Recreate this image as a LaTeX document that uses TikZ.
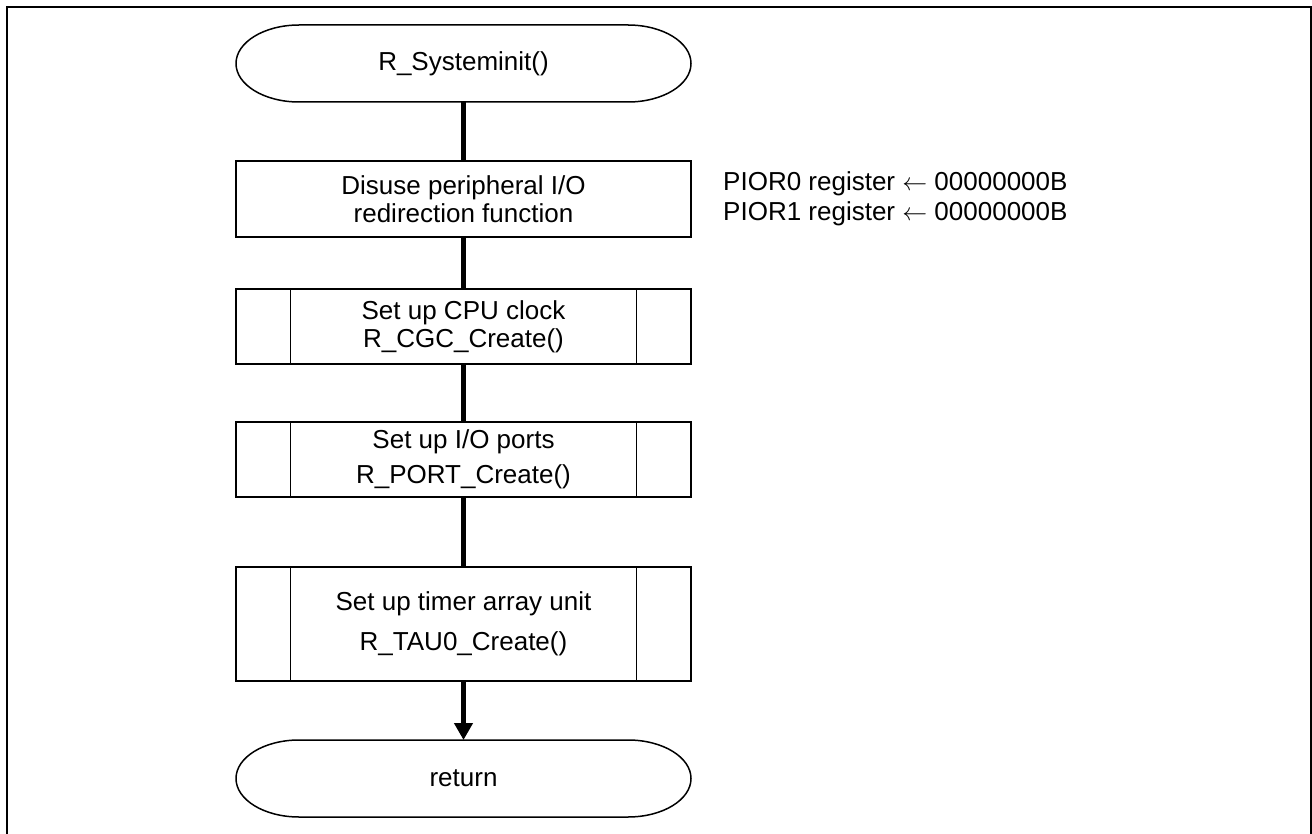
\documentclass[tikz,border=0pt]{standalone}
\usepackage{fontspec}
\setmainfont{Liberation Sans}
\usetikzlibrary{arrows.meta}
\tikzset{
    box/.style={draw, line width=1.3pt, minimum width=455pt, inner sep=0pt, align=center},
    term/.style={minimum width=455pt, minimum height=77pt, inner sep=0pt, outer sep=0pt},
    flow/.style={line width=4.5pt}
}
\begin{document}
\begin{tikzpicture}[x=1pt, y=-1pt, font=\fontsize{26}{28}\selectfont]
        \useasboundingbox (0,0) rectangle (1312,834);
        \draw[line width=2pt] (6.5,845) -- (6.5,7) -- (1310.5,7) -- (1310.5,845);
        % terminals
        \node[term] (start) at (463.5,63.5) {R\_Systeminit()};
        \node[term] (ret) at (463.5,778.5) {return};
        \foreach \t in {start, ret} {\draw[line width=1.5pt] ([xshift=63pt]\t.north west) -- ([xshift=-63pt]\t.north east) arc (90:-90:63pt and 38.5pt) -- ([xshift=63pt]\t.south west) arc (270:90:63pt and 38.5pt) -- cycle;}
        % process boxes
        \node[box, minimum height=76pt] (disuse) at (463.5,199) {Disuse peripheral I/O\\redirection function};
        \node[box, minimum height=75pt] (cgc) at (463.5,326.5) {Set up CPU clock\\R\_CGC\_Create()};
        \node[box, minimum height=75pt] (port) at (463.5,459.5) {Set up I/O ports\\[7pt]R\_PORT\_Create()};
        \node[box, minimum height=114pt] (tau) at (463.5,624) {Set up timer array unit\\[12pt]R\_TAU0\_Create()};
        \foreach \n in {cgc, port, tau} {\draw[line width=1.3pt] ([xshift=55pt]\n.north west) -- ([xshift=55pt]\n.south west); \draw[line width=1.3pt] ([xshift=-55pt]\n.north east) -- ([xshift=-55pt]\n.south east);}
        \node[anchor=west, align=left, inner sep=0pt] (pior) at (723,199) {PIOR0 register $\leftarrow$ 00000000B\\[2pt]PIOR1 register $\leftarrow$ 00000000B};
        % flow lines
        \draw[flow] (start.south) -- (disuse.north);
        \draw[flow] (disuse.south) -- (cgc.north);
        \draw[flow] (cgc.south) -- (port.north);
        \draw[flow] (port.south) -- (tau.north);
        \draw[flow, -{Triangle[length=17pt, width=18pt]}] (tau.south) -- (ret.north);
    \end{tikzpicture}
\end{document}
